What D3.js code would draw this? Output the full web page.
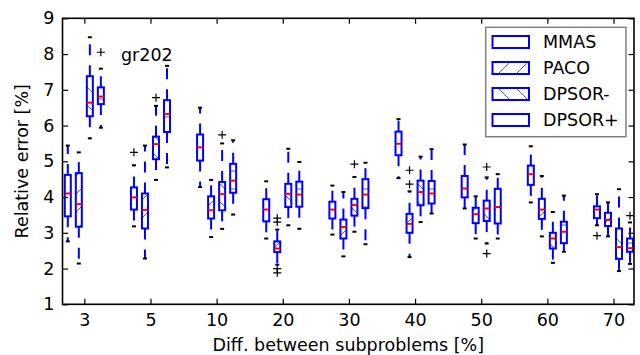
<!DOCTYPE html>
<html>
<head>
<meta charset="utf-8">
<script src="https://cdn.jsdelivr.net/npm/d3@7"></script>
<style>
  body { margin: 0; background: #fff; }
  svg { display: block; font-family: "DejaVu Sans", sans-serif; }
</style>
</head>
<body>
<svg id="chart" width="640" height="355"></svg>
<script>
// categories on the x axis
var categories = ["3", "5", "10", "20", "30", "40", "50", "60", "70"];
var seriesNames = ["MMAS", "PACO", "DPSOR-", "DPSOR+"];

// each entry: [lower cap, q1, median, q3, upper cap]
var mmas = [
  [2.76, 3.46, 4.10, 4.62, 5.44],
  [3.18, 3.65, 3.99, 4.27, 4.89],
  [4.28, 5.02, 5.39, 5.75, 6.50],
  [2.84, 3.32, 3.65, 3.94, 4.44],
  [2.95, 3.40, 3.65, 3.87, 4.32],
  [4.53, 5.17, 5.49, 5.83, 6.18],
  [3.68, 3.99, 4.24, 4.59, 5.47],
  [3.85, 4.34, 4.64, 4.88, 5.42],
  [3.21, 3.41, 3.65, 3.74, 4.08]
];
var paco = [
  [2.14, 3.17, 3.80, 4.67, 5.25],
  [2.28, 3.12, 3.64, 4.10, 5.44],
  [2.88, 3.40, 3.63, 4.02, 4.48],
  [2.11, 2.46, 2.56, 2.76, 3.09],
  [2.34, 2.84, 3.16, 3.37, 4.14],
  [2.32, 3.00, 3.25, 3.53, 4.16],
  [2.84, 3.27, 3.52, 3.70, 4.02],
  [2.90, 3.39, 3.65, 3.95, 4.59],
  [2.90, 3.19, 3.36, 3.56, 3.85]
];
var dpsorMinus = [
  [5.64, 6.26, 6.64, 7.38, 8.47],
  [4.48, 5.06, 5.48, 5.69, 6.55],
  [3.11, 3.63, 4.08, 4.42, 5.50],
  [3.21, 3.72, 4.09, 4.37, 5.35],
  [3.03, 3.48, 3.78, 3.95, 4.56],
  [3.30, 3.77, 4.14, 4.46, 5.13],
  [2.70, 3.33, 3.68, 3.90, 4.55],
  [2.16, 2.56, 2.84, 3.00, 3.58],
  [1.93, 2.27, 2.60, 3.12, 4.22]
];
var dpsorPlus = [
  [5.94, 6.60, 6.81, 7.07, 7.59],
  [4.83, 5.82, 6.32, 6.71, 7.67],
  [3.51, 4.12, 4.46, 4.93, 5.59],
  [3.11, 3.73, 4.07, 4.43, 4.98],
  [2.68, 3.69, 4.07, 4.50, 4.96],
  [3.54, 3.82, 4.10, 4.45, 5.34],
  [2.84, 3.26, 3.72, 4.23, 4.64],
  [2.47, 2.71, 3.03, 3.31, 4.04],
  [2.13, 2.47, 2.57, 2.84, 3.29]
];

// outliers per category
var mmasFliers = [[], [5.25], [], [], [], [], [], [], [2.92]];
var pacoFliers = [[], [], [], [3.41, 3.30, 2.00, 1.88], [], [4.75, 4.36], [], [], []];
var dpsorMinusFliers = [[], [6.78], [5.74], [], [4.92], [], [4.84, 2.42], [], []];
var dpsorPlusFliers = [[8.05], [], [], [], [], [], [], [], [3.48]];

var yTicks = [1, 2, 3, 4, 5, 6, 7, 8, 9];

var allSeries = [mmas, paco, dpsorMinus, dpsorPlus];
var allFliers = [mmasFliers, pacoFliers, dpsorMinusFliers, dpsorPlusFliers];
var hatches = [null, "hatchSlash", "hatchBack", "hatchHoriz"];

var svg = d3.select("#chart"),
  plotL = 62.5, plotR = 634, plotT = 18.3, plotB = 304.3;

var x = d3.scaleLinear().domain([0.67, 9.31]).range([plotL, plotR]);
var y = d3.scaleLinear().domain([1, 9]).range([plotB, plotT]);

var blue = "#0000ff", fs = 17.5;

// hatch patterns (sparse, like matplotlib's single-char hatches)
var defs = svg.append("defs");
function pattern(id, draw) {
  var p = defs.append("pattern").attr("id", id)
    .attr("patternUnits", "userSpaceOnUse")
    .attr("width", 18).attr("height", 18);
  draw(p);
}
pattern("hatchSlash", function (p) {
  p.append("path").attr("d", "M0,18L18,0M-4.5,4.5L4.5,-4.5M13.5,22.5L22.5,13.5")
    .attr("stroke", blue).attr("stroke-width", 0.7);
});
pattern("hatchBack", function (p) {
  p.append("path").attr("d", "M0,0L18,18M-4.5,13.5L4.5,22.5M13.5,-4.5L22.5,4.5")
    .attr("stroke", blue).attr("stroke-width", 0.7);
});
pattern("hatchHoriz", function (p) {
  p.append("path").attr("d", "M0,9H18")
    .attr("stroke", blue).attr("stroke-width", 0.7);
});

var boxW = 6, capW = 4;
var plot = svg.append("g");

allSeries.forEach(function (series, s) {
  var off = (s - 1.5) / 6;
  var g = plot.append("g");
  series.forEach(function (d, i) {
    var cx = x(i + 1 + off);
    // whiskers
    [[d[3], d[4]], [d[1], d[0]]].forEach(function (w) {
      g.append("line")
        .attr("x1", cx).attr("x2", cx)
        .attr("y1", y(w[0])).attr("y2", y(w[1]))
        .attr("stroke", blue).attr("stroke-width", 2)
        .attr("stroke-dasharray", "11,10");
    });
    // caps
    [d[0], d[4]].forEach(function (v) {
      g.append("line")
        .attr("x1", cx - capW / 2).attr("x2", cx + capW / 2)
        .attr("y1", y(v)).attr("y2", y(v))
        .attr("stroke", "#000").attr("stroke-width", 2);
    });
    // box
    g.append("rect")
      .attr("x", cx - boxW / 2).attr("width", boxW)
      .attr("y", y(d[3])).attr("height", y(d[1]) - y(d[3]))
      .attr("fill", hatches[s] ? "url(#" + hatches[s] + ")" : "none")
      .attr("stroke", blue).attr("stroke-width", 2);
    // median
    g.append("line")
      .attr("x1", cx - boxW / 2).attr("x2", cx + boxW / 2)
      .attr("y1", y(d[2])).attr("y2", y(d[2]))
      .attr("stroke", "#ff0000").attr("stroke-width", 2);
    // fliers
    allFliers[s][i].forEach(function (v) {
      g.append("path")
        .attr("d", "M" + (cx - 4) + "," + y(v) + "H" + (cx + 4) +
          "M" + cx + "," + (y(v) - 4) + "V" + (y(v) + 4))
        .attr("stroke", "#000").attr("stroke-width", 1.2).attr("fill", "none");
    });
  });
});

// axes
var tickLen = 5.5;
var xAxis = svg.append("g").attr("transform", "translate(0," + plotB + ")")
  .call(d3.axisBottom(x).tickValues(d3.range(1, 10))
    .tickFormat(function (d) { return categories[d - 1]; })
    .tickSize(-tickLen).tickPadding(9));
var xAxisTop = svg.append("g").attr("transform", "translate(0," + plotT + ")")
  .call(d3.axisTop(x).tickValues(d3.range(1, 10)).tickFormat("")
    .tickSize(-tickLen));
var yAxis = svg.append("g").attr("transform", "translate(" + plotL + ",0)")
  .call(d3.axisLeft(y).tickValues(yTicks).tickFormat(d3.format("d"))
    .tickSize(-tickLen).tickPadding(8));
var yAxisRight = svg.append("g").attr("transform", "translate(" + plotR + ",0)")
  .call(d3.axisRight(y).tickValues(yTicks).tickFormat("")
    .tickSize(-tickLen));

[xAxis, xAxisTop, yAxis, yAxisRight].forEach(function (a) {
  a.select(".domain").remove();
  a.selectAll(".tick line").attr("stroke", "#000").attr("stroke-width", 1.2);
  a.selectAll("text").attr("font-size", fs).attr("font-family", "DejaVu Sans").attr("fill", "#000");
});

svg.append("rect")
  .attr("x", plotL).attr("y", plotT)
  .attr("width", plotR - plotL).attr("height", plotB - plotT)
  .attr("fill", "none").attr("stroke", "#000").attr("stroke-width", 1.6);

// labels
svg.append("text")
  .attr("x", (plotL + plotR) / 2).attr("y", 351)
  .attr("text-anchor", "middle").attr("font-size", fs)
  .text("Diff. between subproblems [%]");

svg.append("text")
  .attr("transform", "translate(28," + (plotT + plotB) / 2 + ") rotate(-90)")
  .attr("text-anchor", "middle").attr("font-size", fs)
  .text("Relative error [%]");

svg.append("text")
  .attr("x", 121).attr("y", 61)
  .attr("font-size", fs)
  .text("gr202");

// legend
var legend = svg.append("g");
legend.append("rect")
  .attr("x", 485.7).attr("y", 27.3).attr("width", 140.3).attr("height", 109.4)
  .attr("fill", "#fff").attr("stroke", "#808080").attr("stroke-width", 1.5);

var items = legend.selectAll("g.item")
  .data(seriesNames)
  .enter().append("g")
  .attr("class", "item")
  .attr("transform", function (d, i) { return "translate(0," + (42 + i * 26) + ")"; });

items.append("rect")
  .attr("x", 492.5).attr("y", -6).attr("width", 36.5).attr("height", 12)
  .attr("fill", function (d, i) { return hatches[i] ? "url(#" + hatches[i] + ")" : "#fff"; })
  .attr("stroke", blue).attr("stroke-width", 2);

items.append("text")
  .attr("x", 543).attr("y", 0).attr("dy", "0.36em")
  .attr("font-size", fs)
  .text(function (d) { return d; });
</script>
</body>
</html>
